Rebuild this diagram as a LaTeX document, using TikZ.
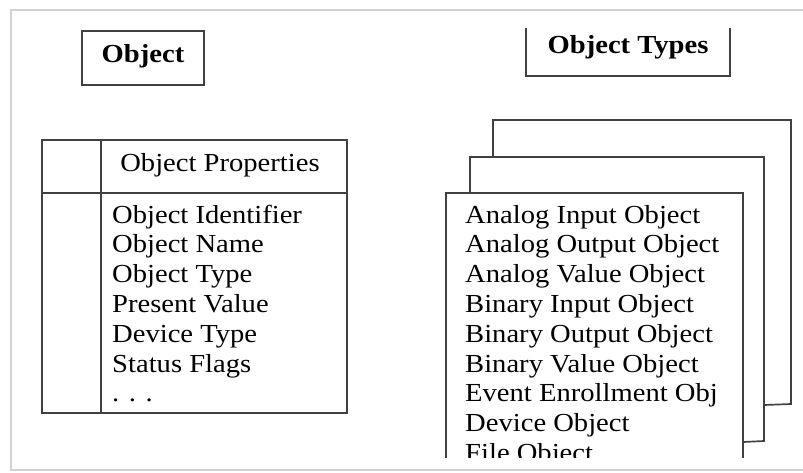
\documentclass[tikz,border=0pt]{standalone}
\usepackage{fontspec}
\setmainfont{Liberation Serif}[FakeStretch=1.1]
\usetikzlibrary{positioning}

\begin{document}
\begin{tikzpicture}[
    x=1pt, y=-1pt,
    frame/.style={
        draw=black!75,
        line width=1.7pt
    },
    title box/.style={
        frame,
        font=\fontsize{26}{30}\selectfont\bfseries,
        inner sep=0pt
    },
    item text/.style={
        anchor=base west,
        inner sep=0pt,
        font=\fontsize{26}{30}\selectfont
    }
]
    \useasboundingbox (0,0) rectangle (803,472);

    % outer page border
    \draw[gray!35, line width=2pt] (803,10) -- (11,10) -- (11,470) -- (803,470);

    % --- A. OBJECT (left title) ---
    \node[title box, minimum width=122pt, minimum height=54pt, text depth=10pt] (object) at (143,58) {Object};

    % --- B. OBJECT TYPES (right title, open at the top) ---
    \node[title box, draw=none, minimum width=202pt, minimum height=46pt, text depth=15pt] (types) at (628,52) {Object Types};
    \draw[frame] (types.north west) -- (types.south west) -- (types.south east) -- (types.north east);

    % --- C. PROPERTY TABLE ---
    \node[frame, inner sep=0pt, minimum width=305pt, minimum height=273pt, anchor=north west] (proptable) at (41,139) {};
    \draw[frame] (41,193) -- (346,193);
    \draw[frame] (101,139) -- (101,412);
    \node[item text, anchor=base] (prophead) at (220,171) {Object Properties};

    \foreach \prop [count=\i] in {Object Identifier, Object Name, Object Type, Present Value, Device Type, Status Flags, . . .}
        \node[item text] (prop\i) at (112,{223+29.8*(\i-1)}) {\prop};

    % --- D. STACK OF TYPE PAGES ---
    \draw[frame] (493,157) -- (493,120) -- (791,120) -- (791,404) -- (764,405);
    \draw[frame] (470,193) -- (470,157) -- (764,157) -- (764,441) -- (743,442);

    \begin{scope}
        \clip (430,180) rectangle (760,457);
        \draw[frame] (446,470) -- (446,193) -- (743,193) -- (743,470);
        \foreach \otype [count=\i] in {Analog Input Object, Analog Output Object, Analog Value Object,
                Binary Input Object, Binary Output Object, Binary Value Object,
                Event Enrollment Obj, Device Object, File Object}
            \node[item text] (type\i) at (465,{223+29.8*(\i-1)}) {\otype};
    \end{scope}

\end{tikzpicture}
\end{document}
